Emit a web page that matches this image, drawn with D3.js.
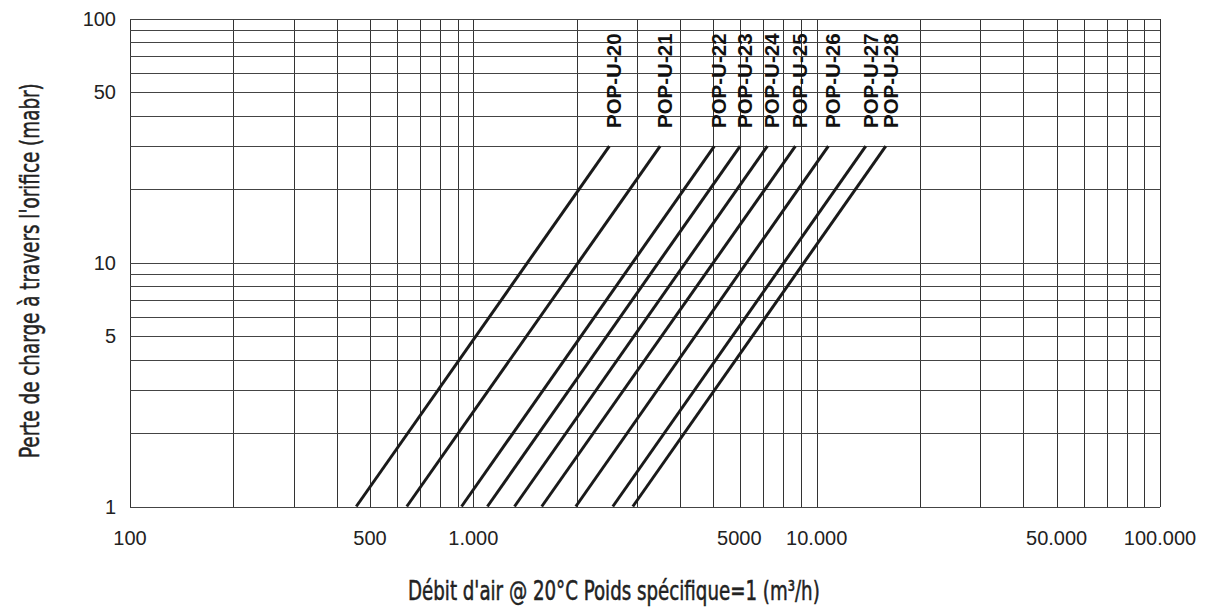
<!DOCTYPE html>
<html>
<head>
<meta charset="utf-8">
<script src="https://cdn.jsdelivr.net/npm/d3@7"></script>
<style>
  body { margin: 0; background: #fff; }
  svg { display: block; }
  .tick-label { font-family: "Liberation Sans", Arial, sans-serif; font-size: 20px; fill: #222; }
  .model-label { font-family: "Liberation Sans", Arial, sans-serif; font-size: 20.5px; font-weight: bold; fill: #111; }
  .axis-title { font-family: "DejaVu Sans Condensed", "Liberation Sans Narrow", sans-serif; font-size: 26px; fill: #222; stroke: #222; stroke-width: 0.5; }
</style>
</head>
<body>
<svg id="chart" width="1211" height="611"></svg>
<script>
// data
const xTicks = [100, 500, 1000, 5000, 10000, 50000, 100000];
const xTickLabels = ["100", "500", "1.000", "5000", "10.000", "50.000", "100.000"];
const yTicks = [1, 5, 10, 50, 100];
const yTickLabels = ["1", "5", "10", "50", "100"];

const models = ["POP-U-20", "POP-U-21", "POP-U-22", "POP-U-23", "POP-U-24",
                "POP-U-25", "POP-U-26", "POP-U-27", "POP-U-28"];
// air flow (m3/h) at 1 mbar and at 30 mbar for each model
const flowAt1  = [456, 640, 924, 1099, 1318, 1582, 1988, 2548, 2914];
const flowAt30 = [2490, 3500, 5035, 5985, 7185, 8670, 10815, 13900, 15895];
const pressureRange = [1, 30];

const svg = d3.select("#chart");

let x = d3.scaleLog().domain([100, 100000]).range([130, 1160]);
let y = d3.scaleLog().domain([1, 100]).range([506.5, 18.5]);

// log grid: 1..9 in each decade
let gridX = [];
for (let d = 100; d < 100000; d *= 10) {
  for (let k = 1; k < 10; k++) gridX.push(d * k);
}
gridX.push(100000);
let gridY = [];
for (let d = 1; d < 100; d *= 10) {
  for (let k = 1; k < 10; k++) gridY.push(d * k);
}
gridY.push(100);

const grid = svg.append("g").attr("shape-rendering", "crispEdges");
grid.selectAll("line.gx")
  .data(gridX)
  .join("line")
  .attr("x1", d => Math.round(x(d)) + 0.5)
  .attr("x2", d => Math.round(x(d)) + 0.5)
  .attr("y1", y(1))
  .attr("y2", y(100))
  .attr("stroke", "#333")
  .attr("stroke-width", 1);

grid.selectAll("line.gy")
  .data(gridY)
  .join("line")
  .attr("y1", d => Math.round(y(d)) + 0.5)
  .attr("y2", d => Math.round(y(d)) + 0.5)
  .attr("x1", x(100))
  .attr("x2", x(100000))
  .attr("stroke", "#444")
  .attr("stroke-width", 1);

// tick labels
svg.append("g").selectAll("text")
  .data(xTicks)
  .join("text")
  .attr("class", "tick-label")
  .attr("x", d => x(d))
  .attr("dx", d => d === 5000 ? 26 : 0)   // label sits a bit right of its line in the original
  .attr("y", 545)
  .attr("text-anchor", "middle")
  .text((d, i) => xTickLabels[i]);

svg.append("g").selectAll("text")
  .data(yTicks)
  .join("text")
  .attr("class", "tick-label")
  .attr("x", 116)
  .attr("y", d => y(d) + 7)
  .attr("text-anchor", "end")
  .text((d, i) => yTickLabels[i]);

// model lines
let line = d3.line()
  .x(d => x(d[0]))
  .y(d => y(d[1]));

let series = models.map((m, i) => ({
  name: m,
  points: [[flowAt1[i], pressureRange[0]], [flowAt30[i], pressureRange[1]]]
}));

svg.append("g").selectAll("path")
  .data(series)
  .join("path")
  .attr("d", d => line(d.points))
  .attr("fill", "none")
  .attr("stroke", "#1a1a1a")
  .attr("stroke-width", 3);

svg.append("g").selectAll("text")
  .data(series)
  .join("text")
  .attr("class", "model-label")
  .attr("transform", d => `translate(${x(d.points[1][0]) + 12},128) rotate(-90)`)
  .text(d => d.name);

// axis titles: condensed font squeezed horizontally to the original width
function squeezedTitle(txt, tx, ty, rot, width) {
  let t = svg.append("text")
    .attr("class", "axis-title")
    .text(txt);
  let natural = t.node().getComputedTextLength();
  let s = width / natural;
  t.attr("transform", `translate(${tx},${ty}) rotate(${rot}) scale(${s},1)`);
  return t;
}

squeezedTitle("Débit d'air @ 20°C Poids spécifique=1 (m³/h)", 408, 600, 0, 412);
squeezedTitle("Perte de charge à travers l'orifice (mabr)", 39, 458, -90, 375);
</script>
</body>
</html>
